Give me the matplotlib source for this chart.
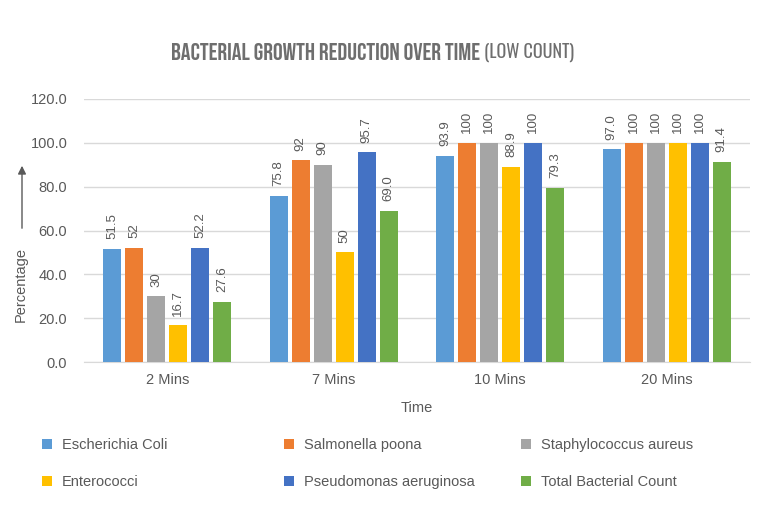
import matplotlib
matplotlib.use('Agg')
import matplotlib.pyplot as plt
from matplotlib import font_manager
import numpy as np

plt.rcParams['font.family'] = ['Liberation Sans', 'DejaVu Sans']

# 数据
times = ['2 Mins', '7 Mins', '10 Mins', '20 Mins']
series = ['Escherichia Coli', 'Salmonella poona', 'Staphylococcus aureus',
          'Enterococci', 'Pseudomonas aeruginosa', 'Total Bacterial Count']
e_coli = [51.5, 75.8, 93.9, 97.0]
salmonella = [52, 92, 100, 100]
staph = [30, 90, 100, 100]
entero = [16.7, 50, 88.9, 100]
pseudo = [52.2, 95.7, 100, 100]
total = [27.6, 69.0, 79.3, 91.4]
labels = [['51.5', '75.8', '93.9', '97.0'],
          ['52', '92', '100', '100'],
          ['30', '90', '100', '100'],
          ['16.7', '50', '88.9', '100'],
          ['52.2', '95.7', '100', '100'],
          ['27.6', '69.0', '79.3', '91.4']]
colors = ['#5B9BD5', '#ED7D31', '#A5A5A5', '#FFC000', '#4472C4', '#70AD47']
values = [e_coli, salmonella, staph, entero, pseudo, total]

# 选一个窄体字体做标题
installed = set(f.name for f in font_manager.fontManager.ttflist)
title_font = 'DejaVu Sans'
for name in ['Bebas Neue', 'Oswald', 'Roboto Condensed', 'Liberation Sans Narrow',
             'Archivo Narrow', 'PT Sans Narrow', 'Fjalla One']:
    if name in installed:
        title_font = name
        break
if title_font == 'Bebas Neue':
    t_size, t_weight = 17.5, 'normal'
    if 'Oswald' in installed:
        light_font, l_size, l_weight = 'Oswald', 13, 200
    else:
        light_font, l_size, l_weight = title_font, 15, 'normal'
elif title_font == 'Oswald':
    t_size, t_weight = 12.5, 'bold'
    light_font, l_size, l_weight = title_font, 12.5, 200
else:
    t_size, t_weight = 11, 'bold'
    light_font, l_size, l_weight = title_font, 11, 'normal'

grey = '#595959'
W, H = 763, 525
fig = plt.figure(figsize=(W / 100, H / 100), dpi=100)
ax = fig.add_axes([84 / W, 1 - 362 / H, 666 / W, 263 / H])

x = np.arange(len(times))
step = 0.132
width = 0.108
handles = []
for i, (vals, c) in enumerate(zip(values, colors)):
    pos = x + (i - 2.5) * step
    b = ax.bar(pos, vals, width, color=c, label=series[i], zorder=3)
    handles.append(b)
    for p, v, t in zip(pos, vals, labels[i]):
        ax.annotate(t, (p, v), xytext=(0, 7), textcoords='offset points',
                    rotation=90, ha='center', va='bottom', fontsize=9.5, color=grey)

ax.set_xlim(-0.5, 3.5)
ax.set_ylim(0, 120)
ax.set_yticks(np.arange(0, 121, 20))
ax.set_yticklabels(['%.1f' % v for v in np.arange(0, 121, 20)])
ax.set_xticks(x)
ax.set_xticklabels(times)
ax.tick_params(length=0, labelsize=10.5, colors=grey)
ax.tick_params(axis='y', pad=12)
ax.tick_params(axis='x', pad=8)
ax.grid(axis='y', color='#D9D9D9', linewidth=1, zorder=0)
for s in ['top', 'right', 'left']:
    ax.spines[s].set_visible(False)
ax.spines['bottom'].set_color('#D9D9D9')
ax.set_xlabel('Time', fontsize=10.5, color=grey, labelpad=10)

# y轴标签和箭头
fig.text(21 / W, 1 - 285 / H, 'Percentage', rotation=90, ha='center', va='center',
         fontsize=10.5, color=grey)
fig.add_artist(matplotlib.patches.FancyArrowPatch(
    (22 / W, 1 - 231 / H), (22 / W, 1 - 163 / H), transform=fig.transFigure,
    arrowstyle='-|>', mutation_scale=12, color=grey, linewidth=1))

# 标题
t1 = fig.text(171 / W, 1 - 52 / H, 'BACTERIAL GROWTH REDUCTION OVER TIME',
              family=[title_font, 'DejaVu Sans'], weight=t_weight,
              fontsize=t_size, color='#6E6E6E', va='center')
ax.annotate('(LOW COUNT)', xy=(1, 0.5), xycoords=t1, xytext=(3, 0),
            textcoords='offset points', va='center', ha='left',
            family=[light_font, 'DejaVu Sans'], weight=l_weight,
            fontsize=l_size, color='#6E6E6E')

# 图例
leg_x = [42, 284, 521]
leg_y = [445, 482]
for i, h in enumerate(handles):
    col, row = i % 3, i // 3
    fig.legend([h], [series[i]], loc='center left',
               bbox_to_anchor=(leg_x[col] / W, 1 - leg_y[row] / H),
               frameon=False, handlelength=0.7, handleheight=0.7,
               handletextpad=0.65, borderpad=0, borderaxespad=0,
               fontsize=10.5, labelcolor=grey)

fig.savefig('out.png', dpi=100)
